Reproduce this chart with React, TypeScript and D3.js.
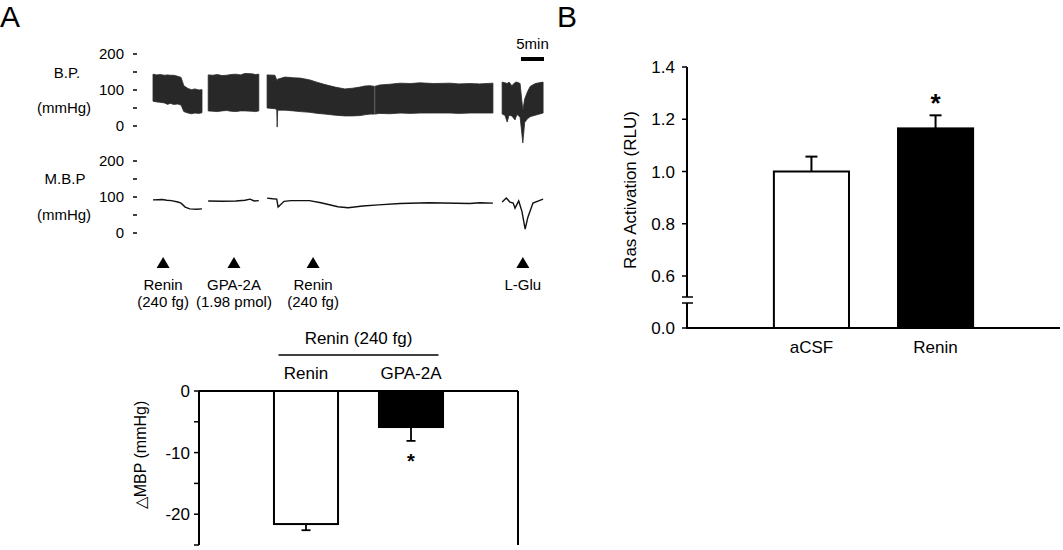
import React from "react";
import * as d3 from "d3";

// ---- panel A traces (time in min, pressure in mmHg) ----
// BP envelope per recording segment: [time, systolic top, diastolic bottom]
const bpSeg1 = [
  [0, 144, 69], [0.8, 142, 67], [1.5, 143, 66], [2.5, 141, 64], [3.2, 142, 60], [3.7, 141, 63], [4.5, 141, 60],
  [5.4, 138, 61], [6.1, 135, 58], [6.7, 112, 40], [7.6, 104, 36], [8.4, 101, 34], [9.1, 103, 36], [10.0, 100, 35], [10.65, 101, 37],
];
const bpSeg2 = [
  [12.0, 142, 42], [13, 141, 41], [14, 143, 40], [15, 140, 42], [16, 141, 43], [17, 143, 41], [18, 144, 40],
  [19, 142, 42], [20, 146, 42], [21.5, 145, 41], [22.3, 143, 40], [23, 144, 42],
];
const bpSeg3 = [
  [24.8, 142, 50], [26.5, 141, 48], [26.9, 128, 46], [27.0, 126, -3], [27.1, 130, 44], [28.7, 136, 44],
  [30.5, 134, 42], [32, 133, 40], [34.1, 128, 38], [35.8, 121, 35], [37.4, 115, 33], [39.6, 108, 30], [41.7, 103, 28],
  [43.4, 105, 28], [45, 108, 29], [46, 111, 31], [47.2, 112, 33], [48.2, 110, 33], [49.3, 114, 35], [51.5, 116, 34],
  [53.7, 119, 36], [56, 118, 35], [58, 120, 36], [61, 118, 36], [64.6, 119, 36], [66.5, 117, 35], [68.9, 118, 36],
  [71, 117, 36], [73.9, 119, 36],
];
const bpSeg4 = [
  [75.9, 122, 33], [76.5, 120, 30], [77.0, 118, 11], [77.4, 122, 30], [78.0, 112, 28], [78.7, 121, 17],
  [79.1, 122, 32], [79.8, 118, 25], [80.4, 44, -47], [80.8, 75, 10], [81.4, 95, 20], [82.0, 110, 26],
  [83.1, 118, 30], [84.8, 122, 36],
];
const bpSegments = [bpSeg1, bpSeg2, bpSeg3, bpSeg4];

// mean BP per segment: [time, mmHg]
const mbpSeg1 = [[0, 92], [2, 93], [3, 91], [4, 90], [5.4, 86], [6.1, 83], [7, 72], [8, 67], [9.5, 66], [10.65, 67]];
const mbpSeg2 = [[12, 89], [15, 88], [18, 89], [20, 91], [21.1, 94], [22, 89], [23, 90]];
const mbpSeg3 = [
  [24.8, 97], [26, 95], [26.9, 94], [27.2, 72], [28.5, 88], [30, 90], [34, 90], [36.5, 84], [40.2, 73],
  [42.4, 70], [45.6, 75], [49, 78], [53.7, 82], [60, 84], [68.9, 82], [71, 84], [73.9, 83],
];
const mbpSeg4 = [
  [75.9, 86], [76.8, 97], [77.6, 86], [78.3, 83], [78.7, 69], [79.5, 89], [80.2, 60], [80.9, 11],
  [81.5, 44], [82.6, 83], [84.8, 94],
];
const mbpSegments = [mbpSeg1, mbpSeg2, mbpSeg3, mbpSeg4];

const markerTimes = [2.2, 17.6, 34.8, 80.4];
const markerLine1 = ["Renin", "GPA-2A", "Renin", "L-Glu"];
const markerLine2 = ["(240 fg)", "(1.98 pmol)", "(240 fg)", ""];
const pressureTicks = [0, 50, 100, 150, 200];
const pressureLabels = [0, 100, 200];

// ---- panel A bar chart ----
const mbpCats = ["Renin", "GPA-2A"];
const mbpMeans = [-21.6, -5.85];
const mbpErrs = [1.0, 2.25];
const mbpTicks = [0, -5, -10, -15, -20, -25];
const mbpTickLabels = [0, -10, -20];

// ---- panel B ----
const rasCats = ["aCSF", "Renin"];
const rasMeans = [1.0, 1.165];
const rasErrs = [0.057, 0.05];
const rasTicks = [0, 0.6, 0.8, 1.0, 1.2, 1.4];

const FONT = "'Liberation Sans', Arial, sans-serif";

export default function App() {
  // trace scales
  const xT = d3.scaleLinear().domain([0, 85]).range([153, 544]);
  const yBP = d3.scaleLinear().domain([0, 200]).range([126, 54]);
  const yMBP = d3.scaleLinear().domain([0, 200]).range([233, 161]);

  const bpArea = d3
    .area<number[]>()
    .x((d) => xT(d[0]))
    .y0((d) => yBP(d[2]))
    .y1((d) => yBP(d[1]));
  const mbpLine = d3
    .line<number[]>()
    .x((d) => xT(d[0]))
    .y((d) => yMBP(d[1]));

  // lower bar chart scales
  const yM = d3.scaleLinear().domain([0, -25]).range([391, 545]);
  const xM = d3.scaleBand().domain(mbpCats).range([199, 518]).paddingInner(0.39).paddingOuter(0.714);
  const groupMid = (xM(mbpCats[0])! + xM(mbpCats[1])! + xM.bandwidth()) / 2;

  // panel B scales (broken axis)
  const yR = d3.scaleLinear().domain([0, 0.6, 1.4]).range([328, 276, 67]);
  const xR = d3.scaleBand().domain(rasCats).range([687, 1060]).paddingInner(0.395).paddingOuter(0.7);
  const breakY = (yR(0) + yR(0.6)) / 2 - 2;
  const fmt = d3.format(".1f");

  return (
    <svg
      width={1063}
      height={550}
      style={{ position: "absolute", left: 0, top: 0, background: "#fff" }}
      fontFamily={FONT}
    >
      {/* panel letters */}
      <text x={0} y={27} fontSize={30}>A</text>
      <text x={557} y={27} fontSize={30}>B</text>

      {/* pressure axes */}
      {[yBP, yMBP].map((ys, k) => (
        <g key={k}>
          {pressureTicks.map((t) => (
            <line key={t} x1={133} x2={137} y1={ys(t)} y2={ys(t)} stroke="#000" strokeWidth={1.5} />
          ))}
          {pressureLabels.map((t) => (
            <text key={t} x={124} y={ys(t) + 5} fontSize={15} textAnchor="end">{t}</text>
          ))}
        </g>
      ))}
      <text x={67} y={78} fontSize={15} textAnchor="middle">B.P.</text>
      <text x={64} y={113} fontSize={15} textAnchor="middle">(mmHg)</text>
      <text x={65} y={184} fontSize={15} textAnchor="middle">M.B.P</text>
      <text x={64} y={220} fontSize={15} textAnchor="middle">(mmHg)</text>

      {/* BP trace */}
      {bpSegments.map((seg, i) => (
        <path key={i} d={bpArea(seg) || ""} fill="#282828" stroke="#282828" strokeWidth={0.8} />
      ))}
      <line x1={xT(48.2)} x2={xT(48.2)} y1={yBP(109)} y2={yBP(34)} stroke="#777" strokeWidth={0.8} />
      {/* MBP trace */}
      {mbpSegments.map((seg, i) => (
        <path key={i} d={mbpLine(seg) || ""} fill="none" stroke="#111" strokeWidth={1.4} />
      ))}

      {/* time scale bar */}
      <text x={(xT(80) + xT(85)) / 2} y={49} fontSize={15} textAnchor="middle">5min</text>
      <line x1={xT(80)} x2={xT(85)} y1={59} y2={59} stroke="#000" strokeWidth={4} />

      {/* injection markers */}
      {markerTimes.map((t, i) => {
        const cx = xT(t);
        return (
          <g key={i}>
            <path d={`M${cx},257 L${cx + 6.5},268 L${cx - 6.5},268 Z`} fill="#000" />
            <text x={cx} y={290} fontSize={15} textAnchor="middle">{markerLine1[i]}</text>
            <text x={cx} y={307} fontSize={15} textAnchor="middle">{markerLine2[i]}</text>
          </g>
        );
      })}

      {/* ---- lower bar chart ---- */}
      <text x={groupMid} y={344} fontSize={17} textAnchor="middle">Renin (240 fg)</text>
      <line x1={groupMid - 80} x2={groupMid + 80} y1={355} y2={355} stroke="#000" strokeWidth={1.5} />
      {mbpCats.map((c) => (
        <text key={c} x={xM(c)! + xM.bandwidth() / 2} y={379} fontSize={17} textAnchor="middle">{c}</text>
      ))}
      {mbpCats.map((c, i) => {
        const cx = xM(c)! + xM.bandwidth() / 2;
        const yEnd = yM(mbpMeans[i] - mbpErrs[i]);
        return (
          <g key={c}>
            <line x1={cx} x2={cx} y1={yM(mbpMeans[i])} y2={yEnd} stroke="#000" strokeWidth={1.8} />
            <line x1={cx - 4.5} x2={cx + 4.5} y1={yEnd} y2={yEnd} stroke="#000" strokeWidth={1.8} />
            <rect
              x={xM(c)}
              y={yM(0)}
              width={xM.bandwidth()}
              height={yM(mbpMeans[i]) - yM(0)}
              fill={i === 0 ? "#fff" : "#000"}
              stroke="#000"
              strokeWidth={2}
            />
          </g>
        );
      })}
      <text x={xM("GPA-2A")! + xM.bandwidth() / 2} y={468} fontSize={20} fontWeight="bold" textAnchor="middle">*</text>
      <line x1={199} x2={199} y1={yM(0)} y2={yM(-25)} stroke="#000" strokeWidth={2} />
      <line x1={199} x2={518} y1={yM(0)} y2={yM(0)} stroke="#000" strokeWidth={2} />
      <line x1={518} x2={518} y1={yM(0)} y2={yM(-25)} stroke="#000" strokeWidth={2} />
      {mbpTicks.map((t) => (
        <line key={t} x1={194} x2={199} y1={yM(t)} y2={yM(t)} stroke="#000" strokeWidth={1.5} />
      ))}
      {mbpTickLabels.map((t) => (
        <text key={t} x={190} y={yM(t) + 6} fontSize={17} textAnchor="end">{t}</text>
      ))}
      <text transform="translate(146,455) rotate(-90)" fontSize={16} textAnchor="middle">△MBP (mmHg)</text>

      {/* ---- panel B ---- */}
      {rasCats.map((c, i) => {
        const cx = xR(c)! + xR.bandwidth() / 2;
        const yEnd = yR(rasMeans[i] + rasErrs[i]);
        return (
          <g key={c}>
            <line x1={cx} x2={cx} y1={yR(rasMeans[i])} y2={yEnd} stroke="#000" strokeWidth={2} />
            <line x1={cx - 6} x2={cx + 6} y1={yEnd} y2={yEnd} stroke="#000" strokeWidth={2} />
            <rect
              x={xR(c)}
              y={yR(rasMeans[i])}
              width={xR.bandwidth()}
              height={yR(0) - yR(rasMeans[i])}
              fill={i === 0 ? "#fff" : "#000"}
              stroke="#000"
              strokeWidth={2}
            />
            <text x={cx} y={353} fontSize={17} textAnchor="middle">{c}</text>
          </g>
        );
      })}
      <text x={xR("Renin")! + xR.bandwidth() / 2} y={112} fontSize={26} fontWeight="bold" textAnchor="middle">*</text>
      <line x1={687} x2={687} y1={yR(1.4)} y2={breakY - 3} stroke="#000" strokeWidth={2} />
      <line x1={687} x2={687} y1={breakY + 3} y2={yR(0)} stroke="#000" strokeWidth={2} />
      <line x1={682} x2={693} y1={breakY - 3} y2={breakY - 3} stroke="#000" strokeWidth={1.5} />
      <line x1={682} x2={693} y1={breakY + 3} y2={breakY + 3} stroke="#000" strokeWidth={1.5} />
      <line x1={686} x2={1060} y1={yR(0)} y2={yR(0)} stroke="#000" strokeWidth={2} />
      {rasTicks.map((t) => (
        <g key={t}>
          <line x1={682} x2={687} y1={yR(t)} y2={yR(t)} stroke="#000" strokeWidth={1.5} />
          <text x={675} y={yR(t) + 6} fontSize={17} textAnchor="end">{fmt(t)}</text>
        </g>
      ))}
      <text transform="translate(636,190) rotate(-90)" fontSize={17} textAnchor="middle">Ras Activation (RLU)</text>
    </svg>
  );
}
